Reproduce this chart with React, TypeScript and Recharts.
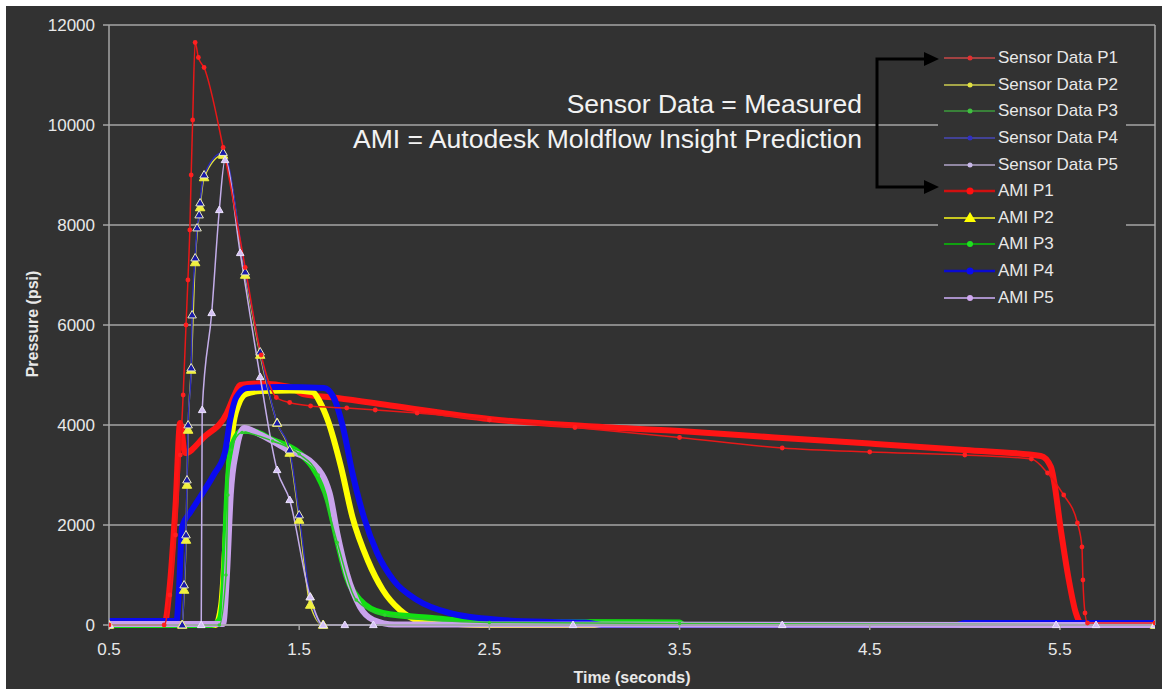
import React from "react";
import {
  CartesianGrid,
  Legend,
  Line,
  LineChart,
  ReferenceLine,
  XAxis,
  YAxis,
} from "recharts";

const BG = "#323232";
const GRID = "#a6a6a6";
const TEXT = "#e8e8e8";
const FONT = "'Liberation Sans', Arial, sans-serif";

const X_TICKS = [0.5, 1.5, 2.5, 3.5, 4.5, 5.5];
const Y_TICKS = [0, 2000, 4000, 6000, 8000, 10000, 12000];

// [time (s), pressure (psi)]
const SENSOR_P1: [number, number][] = [
  [0.5, 0], [0.79, 0], [0.82, 600], [0.85, 1800], [0.875, 3400], [0.89, 4600],
  [0.905, 6000], [0.915, 6900], [0.925, 7900], [0.932, 9000], [0.94, 10100],
  [0.953, 11650], [0.97, 11350], [1.0, 11150], [1.1, 9550], [1.216, 7150],
  [1.3, 5400], [1.38, 4550], [1.45, 4450], [1.56, 4380], [1.75, 4340],
  [1.9, 4300], [2.12, 4240], [2.5, 4100], [2.95, 3950], [3.5, 3750],
  [4.04, 3540], [4.5, 3460], [5.0, 3400], [5.35, 3320], [5.435, 3040],
  [5.52, 2600], [5.592, 2040], [5.616, 1560], [5.621, 900], [5.632, 240],
  [5.645, 40], [6.0, 40],
];
const SENSOR_P2: [number, number][] = [
  [0.5, 0], [0.885, 0], [0.895, 700], [0.905, 1700], [0.91, 2800], [0.916, 3900],
  [0.932, 5100], [0.953, 7250], [0.979, 8350], [1.0, 8950], [1.1, 9400],
  [1.216, 7000], [1.295, 5400], [1.384, 4040], [1.45, 3440], [1.5, 2100],
  [1.558, 400], [1.626, 0], [6.0, 0],
];
const SENSOR_P3: [number, number][] = [
  [0.5, 0], [1.08, 0], [1.115, 1000], [1.125, 2600], [1.14, 3500], [1.2, 3850],
  [1.36, 3680], [1.5, 3420], [1.6, 3000], [1.7, 1650], [1.8, 500], [1.95, 200],
  [2.5, 50], [3.5, 30], [6.0, 0],
];
const SENSOR_P4: [number, number][] = [
  [0.5, 0], [0.885, 0], [0.895, 800], [0.905, 1800], [0.91, 2900], [0.916, 4000],
  [0.932, 5140], [0.937, 6200], [0.953, 7340], [0.963, 7940], [0.974, 8200],
  [0.979, 8440], [1.0, 9000], [1.1, 9450], [1.216, 7060], [1.295, 5460],
  [1.384, 4040], [1.45, 3500], [1.5, 2200], [1.558, 560], [1.626, 0], [6.0, 0],
];
const SENSOR_P5: [number, number][] = [
  [0.5, 0], [0.985, 0], [0.99, 4300], [1.04, 6240], [1.08, 8300], [1.11, 9300],
  [1.19, 7440], [1.295, 4960], [1.384, 3100], [1.45, 2500], [1.558, 560],
  [1.626, 0], [1.74, 0], [1.89, 0], [2.94, 0], [4.04, 0], [5.48, 0], [5.69, 0],
  [6.0, 0],
];

const AMI_P1: [number, number][] = [
  [0.5, 0], [0.79, 0], [0.82, 800], [0.85, 2400], [0.874, 4040], [0.9, 3440],
  [1.0, 3760], [1.12, 4240], [1.16, 4600], [1.19, 4800], [1.3, 4830],
  [1.45, 4760], [1.52, 4620], [1.7, 4540], [2.0, 4380], [2.5, 4120],
  [3.0, 3980], [3.5, 3880], [4.0, 3750], [4.5, 3630], [5.0, 3500], [5.4, 3380],
  [5.453, 3160], [5.468, 2900], [5.505, 1900], [5.547, 900], [5.584, 240],
  [5.611, 40], [6.0, 40],
];
const AMI_P2: [number, number][] = [
  [0.5, 0], [1.06, 0], [1.09, 400], [1.11, 1500], [1.13, 3000], [1.15, 3900],
  [1.18, 4400], [1.22, 4620], [1.3, 4680], [1.45, 4690], [1.57, 4660],
  [1.61, 4450], [1.65, 4100], [1.72, 3160], [1.78, 2160], [1.86, 1300],
  [1.94, 700], [2.03, 300], [2.12, 100], [2.3, 30], [2.5, 0], [6.0, 0],
];
const AMI_P3: [number, number][] = [
  [0.5, 0], [1.04, 0], [1.08, 100], [1.1, 600], [1.12, 2500], [1.14, 3500],
  [1.2, 3880], [1.25, 3880], [1.36, 3700], [1.5, 3440], [1.57, 3160],
  [1.65, 2500], [1.7, 1700], [1.75, 960], [1.82, 500], [1.94, 240], [2.2, 140],
  [2.5, 60], [3.5, 50], [3.52, 0], [6.0, 0],
];
const AMI_P4: [number, number][] = [
  [0.5, 80], [0.855, 80], [0.868, 700], [0.884, 1960], [0.93, 2270],
  [0.979, 2560], [1.05, 3000], [1.11, 3460], [1.137, 4100], [1.17, 4560],
  [1.226, 4740], [1.4, 4760], [1.63, 4740], [1.68, 4560], [1.73, 3960],
  [1.78, 3040], [1.84, 2160], [1.91, 1440], [1.995, 900], [2.12, 500],
  [2.29, 240], [2.56, 100], [2.82, 60], [3.0, 50], [3.1, 0], [4.95, 0],
  [5.0, 40], [6.0, 40],
];
const AMI_P5: [number, number][] = [
  [0.5, 20], [1.1, 20], [1.12, 1000], [1.14, 2600], [1.17, 3500], [1.21, 3940],
  [1.3, 3800], [1.44, 3500], [1.57, 3240], [1.66, 2640], [1.7, 1840],
  [1.75, 1040], [1.82, 360], [1.89, 100], [2.0, 10], [6.0, 0],
];

const toRows = (pts: [number, number][]) => pts.map(([t, v]) => ({ t, v }));

const circleDot = (fill: string, r: number) => (p: any) => {
  if (p.cx == null || p.cy == null) return <g key={`c-${p.index}`} />;
  return <circle key={`c-${p.index}`} cx={p.cx} cy={p.cy} r={r} fill={fill} />;
};

const triDot = (fill: string, stroke: string, s: number) => (p: any) => {
  if (p.cx == null || p.cy == null) return <g key={`t-${p.index}`} />;
  const { cx, cy } = p;
  return (
    <path
      key={`t-${p.index}`}
      d={`M${cx},${cy - s} L${cx + s * 0.95},${cy + s * 0.65} L${cx - s * 0.95},${cy + s * 0.65} Z`}
      fill={fill}
      stroke={stroke}
      strokeWidth={1}
    />
  );
};

// thick dense curves first, thin spiky ones on top
const thick = [
  { name: "AMI P1", pts: AMI_P1, color: "#ff1414" },
  { name: "AMI P2", pts: AMI_P2, color: "#ffff00" },
  { name: "AMI P3", pts: AMI_P3, color: "#12e012" },
  { name: "AMI P4", pts: AMI_P4, color: "#0a0af0" },
  { name: "AMI P5", pts: AMI_P5, color: "#c9a2ec" },
];
const thin = [
  { name: "Sensor Data P3", pts: SENSOR_P3, color: "#30c030", dot: circleDot("#30d030", 1.8) },
  { name: "Sensor Data P2", pts: SENSOR_P2, color: "#e0e040", dot: triDot("#f0f040", "#f0f040", 5) },
  { name: "Sensor Data P4", pts: SENSOR_P4, color: "#2a2ab8", dot: triDot("#1a1aa8", "#eeeec0", 4.5) },
  { name: "Sensor Data P5", pts: SENSOR_P5, color: "#c4aeea", dot: triDot("#d4c0f4", "#ece4ff", 4) },
  { name: "Sensor Data P1", pts: SENSOR_P1, color: "#e81818", dot: circleDot("#ff2020", 2.4) },
];

const LEGEND_ROWS = [
  { label: "Sensor Data P1", color: "#c84848", w: 1.5, mark: "dot", mc: "#e03030", ms: 2.5 },
  { label: "Sensor Data P2", color: "#cccc50", w: 1.5, mark: "dot", mc: "#e0e040", ms: 2.5 },
  { label: "Sensor Data P3", color: "#3c9c3c", w: 1.5, mark: "dot", mc: "#40c040", ms: 2.5 },
  { label: "Sensor Data P4", color: "#4848b8", w: 1.5, mark: "dot", mc: "#3030c0", ms: 2.5 },
  { label: "Sensor Data P5", color: "#b0a4c8", w: 1.5, mark: "dot", mc: "#c8b8e8", ms: 2.5 },
  { label: "AMI P1", color: "#d01010", w: 2.5, mark: "dot", mc: "#ff1010", ms: 3.5 },
  { label: "AMI P2", color: "#c8c820", w: 2, mark: "tri", mc: "#ffff00", ms: 6 },
  { label: "AMI P3", color: "#10a010", w: 2, mark: "dot", mc: "#20e020", ms: 3 },
  { label: "AMI P4", color: "#0a0ad0", w: 2.5, mark: "dot", mc: "#0a0af0", ms: 3.5 },
  { label: "AMI P5", color: "#a890c8", w: 2, mark: "dot", mc: "#d0a8f0", ms: 3 },
];

function LegendBox() {
  return (
    <div style={{ fontFamily: FONT, fontSize: 17, color: TEXT }}>
      {LEGEND_ROWS.map((r) => (
        <div key={r.label} style={{ display: "flex", alignItems: "center", height: 26.6 }}>
          <svg width={57} height={14} style={{ flex: "none" }}>
            <line x1={6} y1={7} x2={57} y2={7} stroke={r.color} strokeWidth={r.w} />
            {r.mark === "tri" ? (
              <path d={`M32,${7 - r.ms} L${32 + r.ms},${7 + r.ms * 0.65} L${32 - r.ms},${7 + r.ms * 0.65} Z`} fill={r.mc} />
            ) : (
              <circle cx={32} cy={7} r={r.ms} fill={r.mc} />
            )}
          </svg>
          <span style={{ marginLeft: 3, whiteSpace: "nowrap" }}>{r.label}</span>
        </div>
      ))}
    </div>
  );
}

export default function App() {
  return (
    <div style={{ position: "absolute", left: 0, top: 0, width: 1166, height: 689, background: "#fff", fontFamily: FONT }}>
      <div style={{ position: "absolute", left: 6, top: 6, width: 1156, height: 683, background: BG }} />
      <div style={{ position: "absolute", left: 0, top: 0 }}>
        <LineChart width={1166} height={689} margin={{ top: 25, right: 11, bottom: 0, left: 49 }}>
          <CartesianGrid vertical={false} stroke={GRID} strokeWidth={1.5} />
          <XAxis
            type="number"
            dataKey="t"
            domain={[0.5, 6]}
            ticks={X_TICKS}
            allowDataOverflow
            height={64}
            tickSize={5}
            tickMargin={13}
            stroke={GRID}
            strokeWidth={1.5}
            tick={{ fill: TEXT, fontSize: 17 }}
            tickFormatter={(v: number) => v.toFixed(1)}
          />
          <YAxis
            type="number"
            domain={[0, 12000]}
            ticks={Y_TICKS}
            width={60}
            tickSize={6}
            tickMargin={8}
            stroke={GRID}
            strokeWidth={1.5}
            tick={{ fill: TEXT, fontSize: 17 }}
          />
          <ReferenceLine x={6} stroke={GRID} strokeWidth={1.5} />
          {thick.map((s) => (
            <Line
              key={s.name}
              name={s.name}
              data={toRows(s.pts)}
              dataKey="v"
              type="monotone"
              stroke={s.color}
              strokeWidth={6}
              dot={false}
              isAnimationActive={false}
            />
          ))}
          {thin.map((s) => (
            <Line
              key={s.name}
              name={s.name}
              data={toRows(s.pts)}
              dataKey="v"
              type="monotone"
              stroke={s.color}
              strokeWidth={1.5}
              dot={s.dot}
              isAnimationActive={false}
            />
          ))}
          <Legend
            layout="vertical"
            align="center"
            verticalAlign="middle"
            content={() => <LegendBox />}
            wrapperStyle={{ left: 938, top: 45, width: 188, height: 268, backgroundColor: BG }}
          />
        </LineChart>
      </div>
      <svg width={1166} height={689} style={{ position: "absolute", left: 0, top: 0, pointerEvents: "none" }}>
        <text x={862} y={113} textAnchor="end" fill="#f2f2f2" fontSize={26.5} fontFamily={FONT}>
          Sensor Data = Measured
        </text>
        <text x={862} y={148} textAnchor="end" fill="#f2f2f2" fontSize={26.5} fontFamily={FONT}>
          AMI = Autodesk Moldflow Insight Prediction
        </text>
        <path d="M926,59 H877 V187 H926" fill="none" stroke="#000" strokeWidth={3} />
        <path d="M939,59 L924,52 L924,66 Z" fill="#000" />
        <path d="M939,187 L924,180 L924,194 Z" fill="#000" />
        <text x={632} y={683} textAnchor="middle" fill={TEXT} fontSize={16} fontWeight="bold" fontFamily={FONT}>
          Time (seconds)
        </text>
        <text
          transform="translate(38,324) rotate(-90)"
          textAnchor="middle"
          fill={TEXT}
          fontSize={16}
          fontWeight="bold"
          fontFamily={FONT}
        >
          Pressure (psi)
        </text>
      </svg>
    </div>
  );
}
